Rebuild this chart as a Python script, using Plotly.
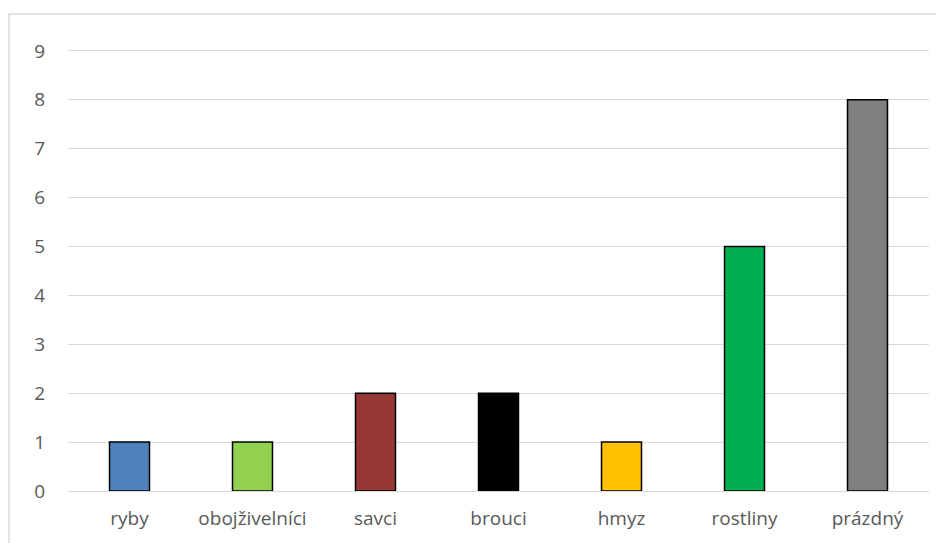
import plotly.graph_objects as go

categories = ["ryby", "obojživelníci", "savci", "brouci", "hmyz", "rostliny", "prázdný"]
values = [1, 1, 2, 2, 1, 5, 8]
colors = ["#4F81BD", "#92D050", "#953735", "#000000", "#FFC000", "#00B050", "#7F7F7F"]
y_ticks = list(range(0, 10))

fig = go.Figure(go.Bar(
    x=categories, y=values,
    marker=dict(color=colors, line=dict(color="#000000", width=1.5)),
    width=0.325,
))

fig.update_layout(
    width=936, height=543,
    margin=dict(l=68, r=7, t=46, b=52),
    paper_bgcolor="white", plot_bgcolor="white",
    showlegend=False,
    font=dict(family="Open Sans, Noto Sans, sans-serif", size=19, color="#595959"),
    xaxis=dict(showgrid=False, showline=False, zeroline=False, ticks="",
               ticklabelstandoff=14, tickfont=dict(size=19, color="#595959")),
    yaxis=dict(range=[0, 9.1], tickvals=y_ticks, showgrid=True, gridcolor="#D9D9D9", gridwidth=1.3,
               zeroline=True, zerolinecolor="#D9D9D9", zerolinewidth=1.3,
               showline=False, ticks="", ticklabelstandoff=22,
               tickfont=dict(size=19, color="#595959")),
    shapes=[dict(type="rect", xref="paper", yref="paper",
                 x0=-0.0685, x1=1.2, y0=-0.3, y1=(491 - 14) / 445,
                 line=dict(color="#D9D9D9", width=1.5), fillcolor="rgba(0,0,0,0)", layer="below")],
)

fig.write_html("out.html")
